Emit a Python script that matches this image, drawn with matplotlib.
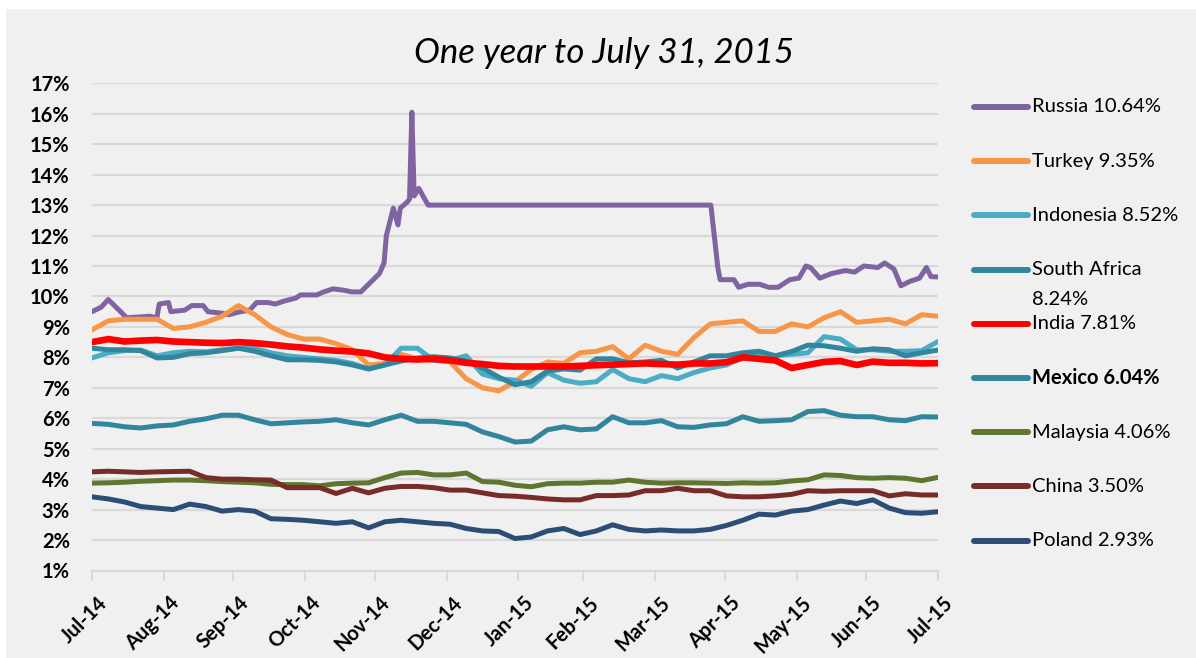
import pandas as pd
import matplotlib
matplotlib.use('Agg')
import matplotlib.pyplot as plt
import matplotlib.transforms as mtransforms
from matplotlib.lines import Line2D
from matplotlib.patches import Rectangle

plt.rcParams['font.family'] = ['Lato', 'DejaVu Sans']

# roughly weekly readings, 31 Jul 2014 .. 31 Jul 2015
grid_dates = pd.date_range('2014-07-31', '2015-07-31', periods=53)

turkey = [8.9, 9.2, 9.25, 9.25, 9.25, 8.95, 9.0, 9.15, 9.35, 9.7, 9.4, 9.0, 8.75,
          8.6, 8.6, 8.45, 8.25, 7.75, 7.8, 8.1, 7.95, 7.9, 7.85, 7.3, 7.0, 6.9,
          7.2, 7.6, 7.85, 7.8, 8.15, 8.2, 8.35, 7.95, 8.4, 8.2, 8.1, 8.65, 9.1,
          9.15, 9.2, 8.85, 8.85, 9.1, 9.0, 9.3, 9.5, 9.15, 9.2, 9.25, 9.1, 9.4, 9.35]
indonesia = [7.98, 8.15, 8.22, 8.24, 8.05, 8.15, 8.2, 8.18, 8.25, 8.3, 8.3, 8.15, 8.05,
             8.0, 7.95, 7.9, 7.8, 7.62, 7.75, 8.3, 8.3, 7.9, 7.9, 8.05, 7.45, 7.3,
             7.25, 7.05, 7.5, 7.25, 7.15, 7.2, 7.6, 7.3, 7.2, 7.4, 7.3, 7.5, 7.65,
             7.75, 8.0, 8.05, 8.05, 8.1, 8.15, 8.68, 8.6, 8.25, 8.25, 8.2, 8.2, 8.22, 8.52]
south_africa = [8.3, 8.25, 8.25, 8.22, 7.98, 8.0, 8.12, 8.15, 8.22, 8.3, 8.2, 8.05, 7.92,
                7.92, 7.9, 7.85, 7.75, 7.62, 7.75, 7.88, 7.98, 8.02, 7.98, 7.88, 7.65, 7.35,
                7.1, 7.2, 7.55, 7.62, 7.58, 7.95, 7.95, 7.82, 7.85, 7.9, 7.65, 7.85, 8.05,
                8.05, 8.15, 8.2, 8.05, 8.19, 8.4, 8.38, 8.3, 8.2, 8.28, 8.25, 8.05, 8.15, 8.24]
india = [8.5, 8.6, 8.52, 8.55, 8.57, 8.52, 8.5, 8.48, 8.47, 8.5, 8.47, 8.42, 8.36,
         8.32, 8.26, 8.22, 8.19, 8.13, 8.0, 7.95, 7.93, 7.95, 7.9, 7.82, 7.78, 7.72,
         7.7, 7.7, 7.7, 7.7, 7.72, 7.74, 7.76, 7.78, 7.8, 7.78, 7.76, 7.8, 7.8,
         7.84, 8.0, 7.95, 7.9, 7.65, 7.75, 7.85, 7.88, 7.75, 7.86, 7.82, 7.82, 7.8, 7.81]
mexico = [5.83, 5.8, 5.72, 5.68, 5.75, 5.78, 5.9, 5.98, 6.1, 6.1, 5.95, 5.82, 5.85,
          5.88, 5.9, 5.95, 5.85, 5.78, 5.95, 6.1, 5.9, 5.9, 5.85, 5.8, 5.55, 5.4,
          5.22, 5.25, 5.62, 5.72, 5.62, 5.65, 6.05, 5.85, 5.85, 5.92, 5.72, 5.7, 5.78,
          5.82, 6.05, 5.9, 5.92, 5.95, 6.22, 6.25, 6.1, 6.05, 6.05, 5.95, 5.92, 6.05, 6.04]
malaysia = [3.87, 3.88, 3.9, 3.93, 3.95, 3.97, 3.97, 3.95, 3.92, 3.9, 3.88, 3.83, 3.82,
            3.82, 3.78, 3.85, 3.87, 3.88, 4.05, 4.2, 4.22, 4.14, 4.14, 4.2, 3.92, 3.9,
            3.8, 3.75, 3.85, 3.87, 3.87, 3.9, 3.9, 3.97, 3.9, 3.87, 3.88, 3.88, 3.87,
            3.86, 3.88, 3.87, 3.88, 3.94, 3.98, 4.14, 4.12, 4.05, 4.03, 4.05, 4.03, 3.95, 4.06]
china = [4.24, 4.26, 4.24, 4.22, 4.24, 4.25, 4.26, 4.05, 4.0, 4.0, 3.98, 3.97, 3.72,
         3.72, 3.72, 3.53, 3.7, 3.55, 3.7, 3.76, 3.76, 3.72, 3.64, 3.64, 3.55, 3.46,
         3.44, 3.4, 3.35, 3.32, 3.32, 3.46, 3.46, 3.48, 3.62, 3.62, 3.7, 3.62, 3.62,
         3.45, 3.42, 3.42, 3.45, 3.5, 3.62, 3.6, 3.62, 3.62, 3.62, 3.45, 3.52, 3.48, 3.48]
poland = [3.42, 3.35, 3.25, 3.1, 3.05, 3.0, 3.18, 3.1, 2.95, 3.0, 2.95, 2.7, 2.68,
          2.65, 2.6, 2.55, 2.6, 2.4, 2.6, 2.65, 2.6, 2.55, 2.52, 2.38, 2.3, 2.28,
          2.05, 2.1, 2.3, 2.38, 2.18, 2.3, 2.5, 2.35, 2.3, 2.33, 2.3, 2.3, 2.35,
          2.48, 2.65, 2.85, 2.82, 2.95, 3.0, 3.15, 3.28, 3.2, 3.32, 3.05, 2.9, 2.88, 2.93]

# Russia has its own dates (spike in mid December, flat gap until late April)
russia_dates = ['2014-07-31', '2014-08-04', '2014-08-07', '2014-08-11', '2014-08-15',
                '2014-08-25', '2014-08-28', '2014-08-29', '2014-09-02', '2014-09-03',
                '2014-09-09', '2014-09-12', '2014-09-17', '2014-09-19', '2014-09-25',
                '2014-09-28', '2014-10-03', '2014-10-07', '2014-10-10', '2014-10-15',
                '2014-10-18', '2014-10-22', '2014-10-27', '2014-10-29', '2014-11-05',
                '2014-11-08', '2014-11-12', '2014-11-17', '2014-11-20', '2014-11-24',
                '2014-11-28', '2014-12-02', '2014-12-04', '2014-12-05', '2014-12-08',
                '2014-12-10', '2014-12-11', '2014-12-14', '2014-12-15', '2014-12-16',
                '2014-12-17', '2014-12-19', '2014-12-23', '2015-04-24', '2015-04-27',
                '2015-04-28', '2015-05-04', '2015-05-06', '2015-05-10', '2015-05-15',
                '2015-05-19', '2015-05-23', '2015-05-28', '2015-06-01', '2015-06-04',
                '2015-06-06', '2015-06-10', '2015-06-15', '2015-06-21', '2015-06-25',
                '2015-06-29', '2015-07-05', '2015-07-08', '2015-07-12', '2015-07-15',
                '2015-07-19', '2015-07-23', '2015-07-26', '2015-07-28', '2015-07-31']
russia = [9.5, 9.65, 9.9, 9.6, 9.3,
          9.35, 9.3, 9.75, 9.8, 9.5,
          9.55, 9.7, 9.7, 9.5, 9.45,
          9.4, 9.5, 9.55, 9.8, 9.8,
          9.75, 9.85, 9.95, 10.05, 10.05,
          10.15, 10.25, 10.2, 10.15, 10.15,
          10.45, 10.75, 11.1, 12.0, 12.9,
          12.35, 12.9, 13.1, 13.2, 16.05,
          13.3, 13.55, 13.0, 13.0, 10.95,
          10.55, 10.55, 10.3, 10.4, 10.4,
          10.3, 10.3, 10.55, 10.6, 11.0,
          10.95, 10.6, 10.75, 10.85, 10.8,
          11.0, 10.95, 11.1, 10.9, 10.35,
          10.5, 10.6, 10.95, 10.65, 10.64]

names = ['Russia 10.64%', 'Turkey 9.35%', 'Indonesia 8.52%', 'South Africa',
         'India 7.81%', 'Mexico 6.04%', 'Malaysia 4.06%', 'China 3.50%', 'Poland 2.93%']
colors = ['#8064A2', '#F79646', '#4BACC6', '#31859C', '#FF0000',
          '#31859C', '#5F7530', '#772C2A', '#2C4D75']

W, H = 1196, 658
fig = plt.figure(figsize=(W / 100, H / 100), dpi=100)
fig.patch.set_facecolor('white')
fig.add_artist(Rectangle((6 / W, 0), 1, 1 - 9 / H, transform=fig.transFigure,
                         facecolor='#F0F0F0', edgecolor='none', zorder=-10))

ax = fig.add_axes([92 / W, 1 - 570.5 / H, 846 / W, (570.5 - 83.3) / H])
ax.set_facecolor('#F0F0F0')

series = [russia, turkey, indonesia, south_africa, india, mexico, malaysia, china, poland]
for k, (vals, c) in enumerate(zip(series, colors)):
    xs = pd.to_datetime(russia_dates) if k == 0 else grid_dates
    lw = 4.8 if k == 4 else 3.6
    ax.plot(xs, vals, color=c, lw=lw, solid_joinstyle='round',
            solid_capstyle='round', zorder=5 if k == 4 else 3)

ax.set_ylim(1, 17)
ax.set_yticks(range(1, 18))
ax.set_yticklabels([f'{v}%' for v in range(1, 18)], fontsize=14.5, fontweight='bold')
ax.yaxis.grid(True, color='#D9D9D9', lw=1.6, zorder=0)
ax.set_axisbelow(True)
ax.tick_params(axis='y', length=0, pad=16)

month_ends = pd.date_range('2014-07-31', '2015-07-31', freq='ME')
ax.set_xlim(month_ends[0], month_ends[-1])
ax.set_xticks(month_ends)
ax.set_xticklabels([d.strftime('%b-%y') for d in month_ends], rotation=45,
                   ha='right', va='top', rotation_mode='anchor',
                   fontsize=14.5, fontweight='bold')
ax.tick_params(axis='x', length=7, width=1.5, color='#D9D9D9', pad=9)
shift = mtransforms.ScaledTranslation(5 / 100, 0, fig.dpi_scale_trans)
for lab in ax.get_xticklabels():
    lab.set_transform(lab.get_transform() + shift)

for s in ['top', 'left', 'right']:
    ax.spines[s].set_visible(False)
ax.spines['bottom'].set_color('#D9D9D9')
ax.spines['bottom'].set_linewidth(1.6)

# title is centred on the whole chart, not on the plot area
fig.text(604 / W, 1 - 53 / H, 'One year to July 31, 2015',
         ha='center', va='center', fontsize=25, style='italic')

# legend drawn by hand: South Africa's label wraps onto a second line
for k, (name, c) in enumerate(zip(names, colors)):
    yp = 1 - (107 + k * 54.2) / H
    fig.add_artist(Line2D([974 / W, 1028 / W], [yp, yp], transform=fig.transFigure,
                          color=c, lw=4.3, solid_capstyle='round'))
    fig.text(1032 / W, yp, name, ha='left', va='center', fontsize=14.5,
             fontweight='bold' if name.startswith('Mexico') else 'normal')
fig.text(1032 / W, 1 - 299 / H, '8.24%', ha='left', va='center', fontsize=14.5)

fig.savefig('out.png', dpi=100)
